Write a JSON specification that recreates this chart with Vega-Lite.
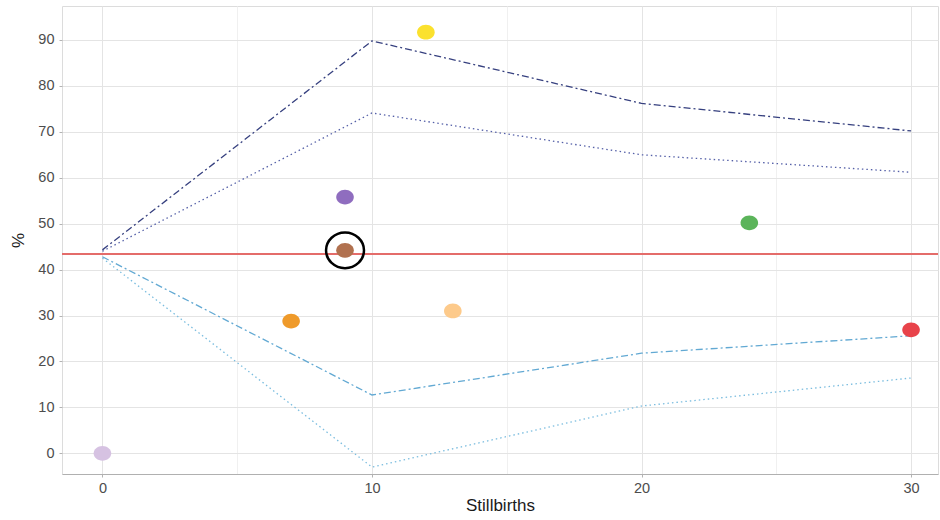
{
  "$schema": "https://vega.github.io/schema/vega-lite/v6.json",
  "autosize": "none",
  "width": 876,
  "height": 468,
  "padding": {"left": 62, "top": 6, "right": 2, "bottom": 46},
  "background": "white",
  "config": {
    "font": "Liberation Sans",
    "view": {"stroke": "#dcdcdc", "strokeWidth": 1},
    "axis": {
      "labelFont": "Liberation Sans",
      "titleFont": "Liberation Sans",
      "labelColor": "#4d4d4d",
      "labelFontSize": 14.5,
      "titleFontSize": 17,
      "titleFontWeight": "normal",
      "titleColor": "#1a1a1a",
      "tickColor": "#b3b3b3",
      "tickSize": 3
    }
  },
  "datasets": {
    "limits": [
      {"stillbirths": 0, "pct": 44.3, "limit": "upper 99.8%"},
      {"stillbirths": 10, "pct": 89.8, "limit": "upper 99.8%"},
      {"stillbirths": 20, "pct": 76.2, "limit": "upper 99.8%"},
      {"stillbirths": 30, "pct": 70.2, "limit": "upper 99.8%"},
      {"stillbirths": 0, "pct": 44.0, "limit": "upper 95%"},
      {"stillbirths": 10, "pct": 74.1, "limit": "upper 95%"},
      {"stillbirths": 20, "pct": 65.0, "limit": "upper 95%"},
      {"stillbirths": 30, "pct": 61.2, "limit": "upper 95%"},
      {"stillbirths": 0, "pct": 42.8, "limit": "lower 95%"},
      {"stillbirths": 10, "pct": 12.7, "limit": "lower 95%"},
      {"stillbirths": 20, "pct": 21.8, "limit": "lower 95%"},
      {"stillbirths": 30, "pct": 25.6, "limit": "lower 95%"},
      {"stillbirths": 0, "pct": 42.5, "limit": "lower 99.8%"},
      {"stillbirths": 10, "pct": -3.0, "limit": "lower 99.8%"},
      {"stillbirths": 20, "pct": 10.3, "limit": "lower 99.8%"},
      {"stillbirths": 30, "pct": 16.4, "limit": "lower 99.8%"}
    ],
    "units": [
      {"unit": "A", "stillbirths": 0, "pct": 0.0},
      {"unit": "B", "stillbirths": 7, "pct": 28.8},
      {"unit": "C", "stillbirths": 9, "pct": 55.8},
      {"unit": "D", "stillbirths": 9, "pct": 44.2},
      {"unit": "E", "stillbirths": 12, "pct": 91.7},
      {"unit": "F", "stillbirths": 13, "pct": 31.0},
      {"unit": "G", "stillbirths": 24, "pct": 50.2},
      {"unit": "H", "stillbirths": 30, "pct": 26.9}
    ],
    "average": [{"pct": 43.4}],
    "highlight": [{"stillbirths": 9, "pct": 44.2}]
  },
  "layer": [
    {
      "data": {"name": "limits"},
      "mark": {"type": "line", "strokeWidth": 1.3},
      "encoding": {
        "x": {
          "field": "stillbirths", "type": "quantitative",
          "scale": {"domain": [-1.5, 31], "nice": false, "zero": false},
          "axis": {
            "title": "Stillbirths",
            "values": [0, 5, 10, 15, 20, 25, 30],
            "labelExpr": "datum.value % 10 === 0 ? datum.label : ''",
            "gridColor": {"condition": {"test": "datum.value % 10 === 0", "value": "#e4e4e4"}, "value": "#f0f0f0"},
            "tickOpacity": {"condition": {"test": "datum.value % 10 === 0", "value": 1}, "value": 0},
            "domainColor": "#b0b0b0",
            "labelPadding": 4,
            "titlePadding": 3
          }
        },
        "y": {
          "field": "pct", "type": "quantitative",
          "scale": {"domain": [-4.5, 97.4], "nice": false, "zero": false},
          "axis": {
            "title": "%",
            "values": [0, 5, 10, 15, 20, 25, 30, 35, 40, 45, 50, 55, 60, 65, 70, 75, 80, 85, 90, 95],
            "labelExpr": "datum.value % 10 === 0 ? datum.label : ''",
            "gridColor": {"condition": {"test": "datum.value % 10 === 0", "value": "#e4e4e4"}, "value": "#f0f0f0"},
            "tickOpacity": {"condition": {"test": "datum.value % 10 === 0", "value": 1}, "value": 0},
            "domain": false,
            "labelPadding": 5,
            "titlePadding": 10
          }
        },
        "color": {
          "field": "limit", "type": "nominal", "legend": null,
          "scale": {
            "domain": ["upper 99.8%", "upper 95%", "lower 95%", "lower 99.8%"],
            "range": ["#36407f", "#5560a8", "#62a9d3", "#7bbddf"]
          }
        },
        "strokeDash": {
          "field": "limit", "type": "nominal", "legend": null,
          "scale": {
            "domain": ["upper 99.8%", "upper 95%", "lower 95%", "lower 99.8%"],
            "range": [[7, 3, 2, 3], [1.5, 3], [7, 3, 2, 3], [1.5, 3]]
          }
        }
      }
    },
    {
      "data": {"name": "average"},
      "mark": {"type": "rule", "color": "#e46c6a", "strokeWidth": 2},
      "encoding": {"y": {"field": "pct", "type": "quantitative"}}
    },
    {
      "data": {"name": "units"},
      "mark": {
        "type": "point",
        "shape": "M -1,0 A 1,0.84 0 1,1 1,0 A 1,0.84 0 1,1 -1,0 Z",
        "filled": true, "size": 310, "opacity": 1
      },
      "encoding": {
        "x": {"field": "stillbirths", "type": "quantitative"},
        "y": {"field": "pct", "type": "quantitative"},
        "color": {
          "field": "unit", "type": "nominal", "legend": null,
          "scale": {
            "domain": ["A", "B", "C", "D", "E", "F", "G", "H"],
            "range": ["#d6c2e2", "#ef9a2a", "#8f6dbf", "#b1714f", "#fbe12e", "#fdca8b", "#5bb45a", "#e8434a"]
          }
        }
      }
    },
    {
      "data": {"name": "highlight"},
      "mark": {
        "type": "point",
        "shape": "M -1,0 A 1,0.94 0 1,1 1,0 A 1,0.94 0 1,1 -1,0 Z",
        "filled": false, "size": 1440, "color": "black", "strokeWidth": 2.5, "opacity": 1
      },
      "encoding": {
        "x": {"field": "stillbirths", "type": "quantitative"},
        "y": {"field": "pct", "type": "quantitative"}
      }
    }
  ],
  "resolve": {"scale": {"color": "independent"}}
}
